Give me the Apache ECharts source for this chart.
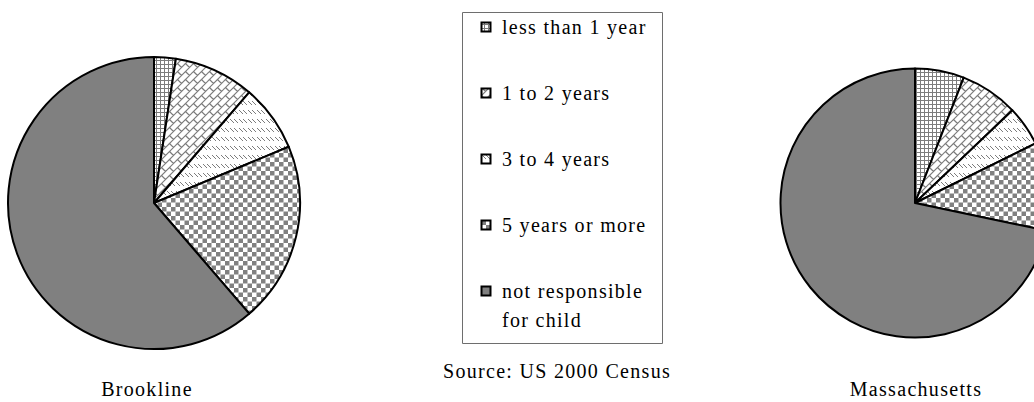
<!DOCTYPE html>
<html>
<head>
<meta charset="utf-8">
<title>Grandparents responsible for grandchildren</title>
<script src="https://cdn.jsdelivr.net/npm/echarts@6/dist/echarts.min.js"></script>
<style>
  html, body { margin: 0; padding: 0; background: #fff; }
  #chart { width: 1034px; height: 402px; }
  /* the serif labels are set slightly tracked out */
  #chart text { letter-spacing: 1.3px; }
</style>
</head>
<body>
<div id="chart"></div>
<script>
// Duration of responsibility for grandchildren (share of grandparents, %)
const categories = [
  'less than 1 year',
  '1 to 2 years',
  '3 to 4 years',
  '5 years or more',
  'not responsible for child'
];
const regions = ['Brookline', 'Massachusetts'];
const brooklineValues = [2.4, 8.9, 7.4, 20.0, 61.3];
const massachusettsValues = [5.9, 7.0, 4.8, 10.6, 71.7];
const sourceNote = 'Source: US 2000 Census';

const valueSets = [brooklineValues, massachusettsValues];

const FONT = '20px "Liberation Serif", "Times New Roman", serif';
const GRAY = '#808080';
const HATCH = '#7c7c7c';

// Small repeating tiles used as slice fills
function tile(size, draw) {
  const c = document.createElement('canvas');
  c.width = size;
  c.height = size;
  const ctx = c.getContext('2d');
  ctx.fillStyle = '#fff';
  ctx.fillRect(0, 0, size, size);
  draw(ctx, size);
  return { image: c, repeat: 'repeat', imageWidth: size, imageHeight: size };
}

// fine square grid
const gridFill = tile(4, (ctx, s) => {
  ctx.fillStyle = HATCH;
  ctx.fillRect(0, 0, s, 1);
  ctx.fillRect(0, 0, 1, s);
});

// diagonal brick: "/" rails with staggered "\" joints
const brickFill = tile(16, (ctx, s) => {
  ctx.strokeStyle = HATCH;
  ctx.lineWidth = 1.2;
  const segs = [];
  [0, 8, 16, 24, 32].forEach(c => segs.push([c + 1, -1, -1, c + 1]));
  segs.push([1, 7, 5, 11], [9, -1, 13, 3], [9, 7, 13, 11], [1, 15, 5, 19]);
  ctx.beginPath();
  for (const [x1, y1, x2, y2] of segs) {
    for (const dx of [-s, 0, s]) {
      for (const dy of [-s, 0, s]) {
        ctx.moveTo(x1 + dx + 0.5, y1 + dy + 0.5);
        ctx.lineTo(x2 + dx + 0.5, y2 + dy + 0.5);
      }
    }
  }
  ctx.stroke();
});

// dashed downward diagonals
const dashFill = tile(9, (ctx) => {
  ctx.fillStyle = HATCH;
  for (let k = 0; k < 4; k++) {
    ctx.fillRect(k, 2 + k, 1, 1);
    ctx.fillRect(5 + k, 2 + k, 1, 1);
  }
});

// large checkerboard
const checkFill = tile(9, (ctx) => {
  ctx.fillStyle = GRAY;
  ctx.fillRect(0, 0, 4.5, 4.5);
  ctx.fillRect(4.5, 4.5, 4.5, 4.5);
});

const fills = [gridFill, brickFill, dashFill, checkFill, GRAY];

// pie geometry
const pieCenters = [[154, 203], [915, 203]];
const pieRadii = [146, 134.5];
const nameX = [147, 916];
const nameY = 389;

// legend frame and rows
const legendBox = { x: 462.5, y: 12.5, width: 200, height: 331 };
const iconX = 481.5, iconSize = 9, textX = 502;
const rowTop = 27, rowStep = 66, lineH = 29;

const graphic = [
  {
    type: 'rect',
    shape: legendBox,
    style: { fill: '#fff', stroke: '#6e6e6e', lineWidth: 1 },
    silent: true
  }
];
categories.forEach((name, i) => {
  const cy = rowTop + i * rowStep;
  graphic.push({
    type: 'rect',
    shape: { x: iconX, y: cy - iconSize / 2, width: iconSize, height: iconSize },
    style: { fill: fills[i], stroke: '#000', lineWidth: 2 },
    silent: true
  });
  graphic.push({
    type: 'text',
    x: textX,
    y: cy - lineH / 2,
    style: {
      text: name,
      font: FONT,
      fill: '#000',
      verticalAlign: 'top',
      lineHeight: lineH,
      width: 135,
      overflow: 'break'
    },
    silent: true
  });
});
graphic.push({
  type: 'text',
  x: 557,
  y: 371,
  style: { text: sourceNote, font: FONT, fill: '#000', align: 'center', verticalAlign: 'middle' },
  silent: true
});
regions.forEach((region, k) => {
  graphic.push({
    type: 'text',
    x: nameX[k],
    y: nameY,
    style: { text: region, font: FONT, fill: '#000', align: 'center', verticalAlign: 'middle' },
    silent: true
  });
});

const chart = echarts.init(document.getElementById('chart'), null, { renderer: 'svg' });
chart.setOption({
  animation: false,
  backgroundColor: '#fff',
  graphic: graphic,
  series: regions.map((region, k) => ({
    type: 'pie',
    name: region,
    center: pieCenters[k],
    radius: pieRadii[k],
    startAngle: 90,
    clockwise: true,
    silent: true,
    label: { show: false },
    labelLine: { show: false },
    itemStyle: { borderColor: '#000', borderWidth: 2 },
    data: categories.map((name, i) => ({
      name: name,
      value: valueSets[k][i],
      itemStyle: { color: fills[i] }
    }))
  }))
});
</script>
</body>
</html>
